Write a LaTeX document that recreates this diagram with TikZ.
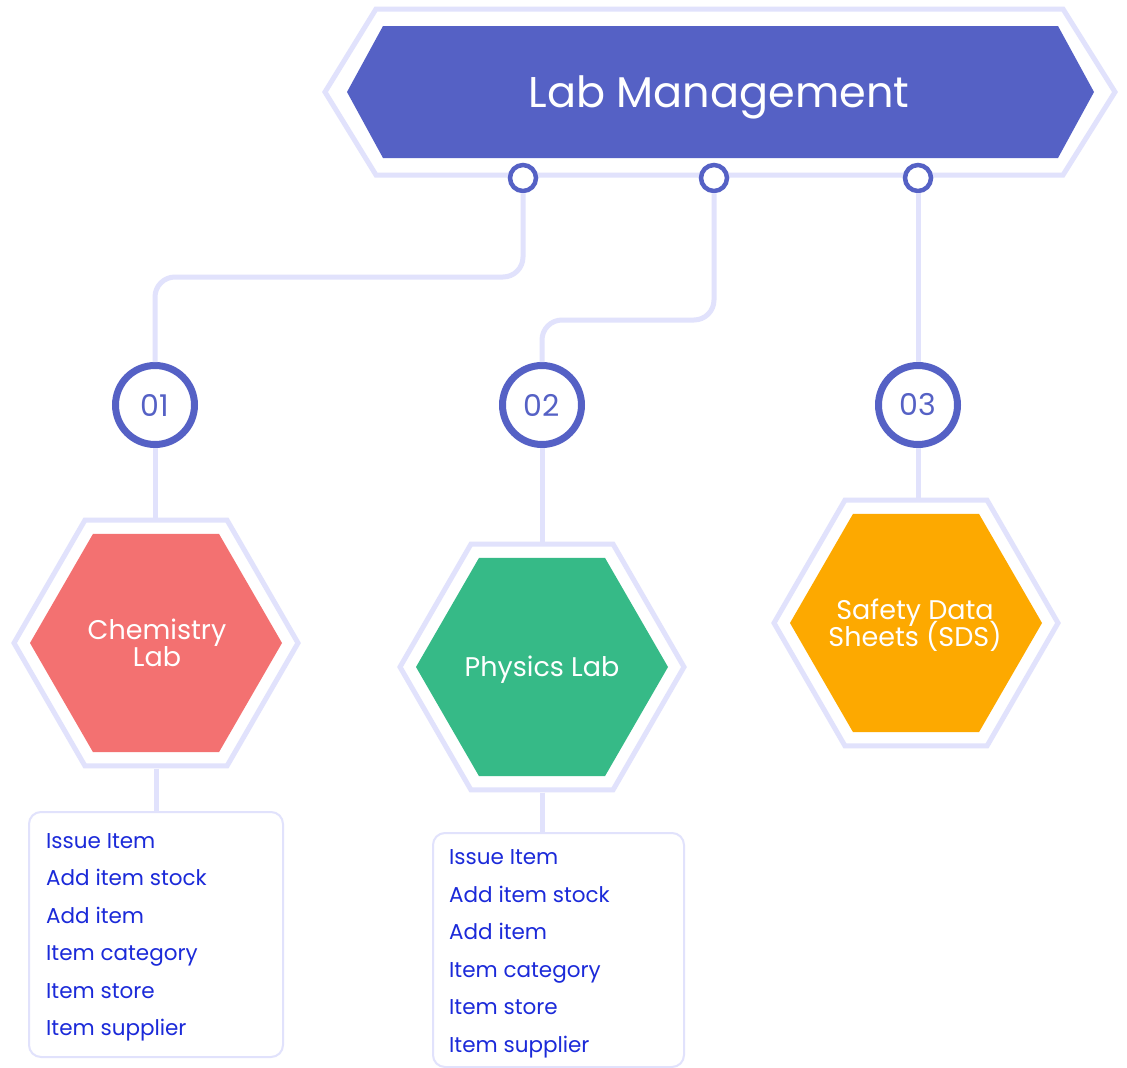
\documentclass[tikz,border=0pt]{standalone}
\usepackage{fontspec}
\setmainfont{Poppins}
\usetikzlibrary{shapes.geometric,calc}
\definecolor{lav}{HTML}{E1E2FC}
\definecolor{indigo}{HTML}{5561C5}
\definecolor{chemc}{HTML}{F37171}
\definecolor{physc}{HTML}{36BA87}
\definecolor{sdsc}{HTML}{FDA900}
\definecolor{itemc}{HTML}{1B2AD9}
\newcommand\myhexfont{\fontsize{27}{27}\selectfont\lineskiplimit-20pt\relax}
\begin{document}
\begin{tikzpicture}[x=1pt,y=-1pt,
  conn/.style={draw=lav,line width=5pt},
  hexout/.style={regular polygon,regular polygon sides=6,draw=lav,line width=5pt,minimum size=284pt,inner sep=0pt},
  hexin/.style={regular polygon,regular polygon sides=6,minimum size=252pt,inner sep=0pt},
  hextext/.style={inner sep=0pt,text=white,font=\myhexfont,align=center},
  bigc/.style={circle,draw=indigo,line width=7pt,fill=white,minimum size=79pt,inner sep=0pt,text=indigo,font=\fontsize{30}{30}\selectfont},
  smallc/.style={circle,draw=indigo,line width=4.5pt,fill=white,minimum size=26pt,inner sep=0pt},
  listbox/.style={draw=lav,line width=2pt,rounded corners=12pt,anchor=north west,inner sep=0pt},
  item/.style={anchor=base west,inner sep=0pt,text=itemc,font=\fontsize{21.5}{21.5}\selectfont}
]
\useasboundingbox (0,0) rectangle (1127,1068);
\fill[white] (0,0) rectangle (1127,1068);

% banner
\draw[lav,line width=5pt,line join=miter] (325,92) -- (376,9) -- (1063,9) -- (1115,92) -- (1063,175) -- (376,175) -- cycle;
\fill[indigo] (347,92) -- (383,26) -- (1058,26) -- (1094,92) -- (1058,158) -- (383,158) -- cycle;
\node[text=white,font=\fontsize{43}{43}\selectfont,inner sep=0pt,anchor=base] (title) at (719,107) {Lab Management};

% small circles
\node[smallc] (s1) at (523,178) {};
\node[smallc] (s2) at (714,178) {};
\node[smallc] (s3) at (918,178) {};

% big numbered circles
\node[bigc] (c1) at (155,405) {01};
\node[bigc] (c2) at (542,405) {02};
\node[bigc] (c3) at (918,405) {03};

% hexagons
\node[hexout] (chemo) at (156,643) {};
\node[hexin,fill=chemc] (chem) at (156,643) {};
\node[hextext] (chemt) at (157,643) {Chemistry\\Lab};
\node[hexout] (physo) at (542,667) {};
\node[hexin,fill=physc] (phys) at (542,667) {};
\node[hextext] (physt) at (542,670) {Physics Lab};
\node[hexout] (sdso) at (916,623) {};
\node[hexin,fill=sdsc] (sds) at (916,623) {};
\node[hextext] (sdst) at (915,625) {Safety Data\\Sheets (SDS)};

% list boxes
\node[listbox,minimum width=254pt,minimum height=245pt] (box1) at (28,811) {};
\node[listbox,minimum width=251pt,minimum height=234pt] (box2) at (432,832) {};

\node[item] (a1) at (46,848) {Issue Item};
\node[item] (a2) at (46,885.5) {Add item stock};
\node[item] (a3) at (46,923) {Add item};
\node[item] (a4) at (46,960.5) {Item category};
\node[item] (a5) at (46,998) {Item store};
\node[item] (a6) at (46,1035.5) {Item supplier};

\node[item] (b1) at (449,864.5) {Issue Item};
\node[item] (b2) at (449,902) {Add item stock};
\node[item] (b3) at (449,939.5) {Add item};
\node[item] (b4) at (449,977) {Item category};
\node[item] (b5) at (449,1014.5) {Item store};
\node[item] (b6) at (449,1052) {Item supplier};

% connectors
\coordinate (k1) at (155,277);
\coordinate (k2) at (542,320);
\draw[conn,rounded corners=20pt] (s1.south) |- (k1) -- (c1.north);
\draw[conn,rounded corners=20pt] (s2.south) |- (k2) -- (c2.north);
\draw[conn] (s3.south) -- (c3.north);
\draw[conn] (c1.south) -- (c1.south |- chemo.north);
\draw[conn] (c2.south) -- (physo.north);
\draw[conn] (c3.south) -- (c3.south |- sdso.north);
\draw[conn] (chemo.south) -- (chemo.south |- box1.north);
\draw[conn] (physo.south) -- (physo.south |- box2.north);
\end{tikzpicture}
\end{document}
